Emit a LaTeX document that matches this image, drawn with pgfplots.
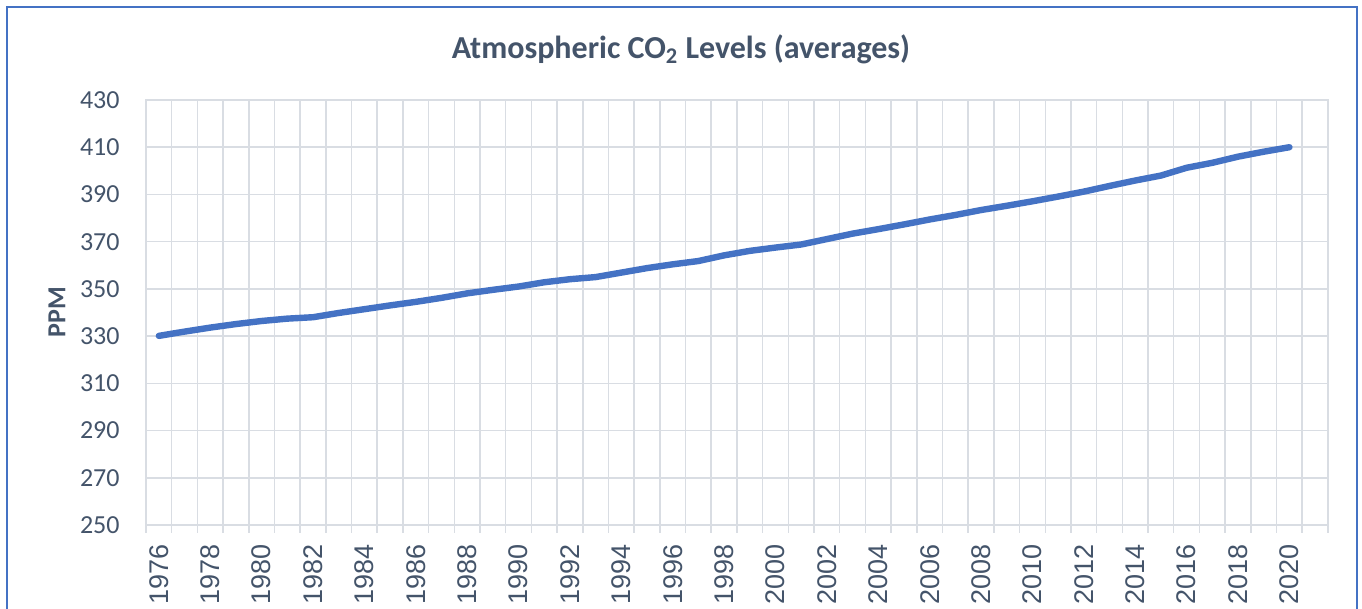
\documentclass[border=0pt]{standalone}
\usepackage{pgfplots}
\pgfplotsset{compat=1.18}
\usepackage{fontspec}
\setmainfont{Carlito}
\newfontfamily\xfont{Liberation Sans}
\definecolor{txt}{HTML}{44546A}
\definecolor{gridc}{HTML}{D9DDE3}
\definecolor{linec}{HTML}{4472C4}
\begin{document}
\begin{tikzpicture}[x=1pt,y=1pt]
\useasboundingbox (0,0) rectangle (681,304.5);
\fill[white] (0,0) rectangle (681,304.5);
\draw[linec, line width=1.2pt] (3.5,-2) -- (3.5,301) -- (678.5,301) -- (678.5,-2);
\node[anchor=base, text=txt, font=\bfseries\fontsize{16}{19}\selectfont] at (340.5,275.2) {Atmospheric CO\textsubscript{2} Levels (averages)};
\node[rotate=90, text=txt, font=\bfseries\fontsize{13}{15}\selectfont] at (28.5,148.5) {PPM};
\begin{axis}[at={(73pt,42pt)}, anchor=south west, scale only axis,
  width=591pt, height=212.5pt,
  xmin=1975.5, xmax=2021.5, ymin=250, ymax=430,
  ytick={250,270,...,430},
  xtick={1976,1978,...,2020},
  minor xtick={1975.5,1976.5,...,2021.5},
  xminorgrids, ymajorgrids,
  grid style={draw=gridc, line width=0.75pt},
  minor grid style={draw=gridc, line width=0.75pt},
  axis line style={draw=gridc, line width=0.75pt},
  major tick length=0pt,
  minor tick length=4pt,
  tick align=outside,
  xtick pos=bottom, ytick pos=left,
  minor tick style={draw=gridc, line width=0.75pt},
  /pgf/number format/1000 sep={},
  /pgf/number format/assume math mode=true,
  x tick label style={yshift=-9.5pt, rotate=90, anchor=east, inner sep=0pt, font=\xfont\fontsize{13.5}{15}\selectfont, text=txt},
  y tick label style={anchor=east, inner sep=0pt, xshift=-13pt, font=\fontsize{13}{15}\selectfont, text=txt},
  clip=false,
]
\addplot[linec, line width=3.2pt, line cap=round, line join=round] coordinates {
(1976,330.1) (1977,331.9) (1978,333.6) (1979,335.1) (1980,336.4)
(1981,337.4) (1982,338.0) (1983,339.8) (1984,341.4) (1985,343.0)
(1986,344.5) (1987,346.2) (1988,348.1) (1989,349.6) (1990,351.0)
(1991,352.8) (1992,354.1) (1993,355.0) (1994,356.9) (1995,358.8)
(1996,360.4) (1997,361.8) (1998,364.2) (1999,366.1) (2000,367.5)
(2001,368.8) (2002,371.1) (2003,373.4) (2004,375.3) (2005,377.3)
(2006,379.4) (2007,381.3) (2008,383.4) (2009,385.2) (2010,387.1)
(2011,389.1) (2012,391.2) (2013,393.6) (2014,395.9) (2015,398.0)
(2016,401.3) (2017,403.4) (2018,406.0) (2019,408.1) (2020,410.0)
};
\end{axis}
\end{tikzpicture}
\end{document}
